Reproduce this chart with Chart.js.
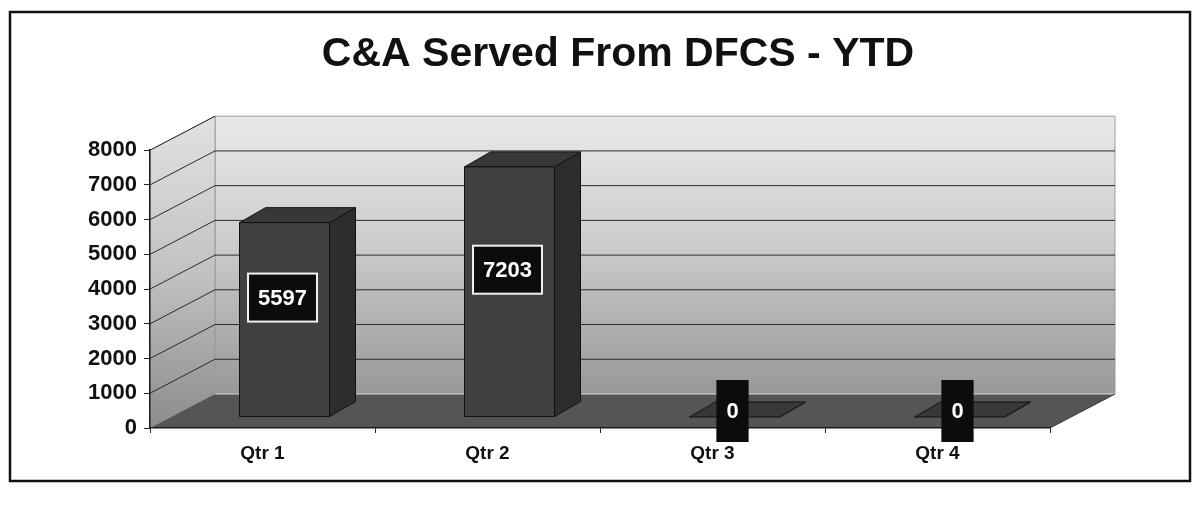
<!DOCTYPE html>
<html>
<head>
<meta charset="utf-8">
<script src="https://cdn.jsdelivr.net/npm/chart.js@4.4.1/dist/chart.umd.min.js"></script>
<style>
  html, body { margin: 0; padding: 0; background: #fff; }
  #wrap { position: absolute; left: 0; top: 0; width: 1195px; height: 510px; }
</style>
</head>
<body>
<div id="wrap"><canvas id="myChart" width="1195" height="510"></canvas></div>
<script>
const categories = ["Qtr 1", "Qtr 2", "Qtr 3", "Qtr 4"];
const served = [5597, 7203, 0, 0];
const yMax = 8000;
const yStep = 1000;

// 3D look: depth of the walls and of the bars
const WALL = { dx: 65, dy: -34 };
const BAR_SHIFT = { dx: 22, dy: -11 };
const BAR_DEPTH = { dx: 26, dy: -15 };
const FONT = "'Liberation Sans', Arial, sans-serif";

function poly(ctx, pts, fill, stroke) {
  ctx.beginPath();
  ctx.moveTo(pts[0][0], pts[0][1]);
  for (let i = 1; i < pts.length; i++) ctx.lineTo(pts[i][0], pts[i][1]);
  ctx.closePath();
  if (fill) { ctx.fillStyle = fill; ctx.fill(); }
  if (stroke) { ctx.strokeStyle = stroke; ctx.stroke(); }
}

const threeD = {
  id: "threeD",
  beforeDraw(chart) {
    const { ctx } = chart;
    const x = chart.scales.x, y = chart.scales.y;
    const L = x.left, R = x.right;
    const B = y.getPixelForValue(0), T = y.getPixelForValue(yMax);
    const dx = WALL.dx, dy = WALL.dy;
    ctx.save();

    // frame round the whole chart
    ctx.lineWidth = 2.5;
    ctx.strokeStyle = "#111";
    ctx.strokeRect(10, 12, 1180, 469);

    // back wall
    ctx.lineWidth = 1;
    const g = ctx.createLinearGradient(0, T + dy, 0, B + dy);
    g.addColorStop(0, "#e9e9e9");
    g.addColorStop(0.45, "#cdcdcd");
    g.addColorStop(1, "#989898");
    poly(ctx, [[L + dx, T + dy], [R + dx, T + dy], [R + dx, B + dy], [L + dx, B + dy]], g, "#9a9a9a");

    // side wall
    const g2 = ctx.createLinearGradient(0, T + dy, 0, B);
    g2.addColorStop(0, "#e2e2e2");
    g2.addColorStop(0.5, "#c2c2c2");
    g2.addColorStop(1, "#8c8c8c");
    poly(ctx, [[L, T], [L + dx, T + dy], [L + dx, B + dy], [L, B]], g2, "#9a9a9a");

    // grid lines on the walls
    ctx.strokeStyle = "#2a2a2a";
    y.ticks.forEach(t => {
      if (t.value === 0 || t.value === yMax) return;
      const py = y.getPixelForValue(t.value);
      ctx.beginPath();
      ctx.moveTo(L, py);
      ctx.lineTo(L + dx, py + dy);
      ctx.lineTo(R + dx, py + dy);
      ctx.stroke();
    });
    ctx.beginPath();
    ctx.moveTo(L, T);
    ctx.lineTo(L + dx, T + dy);
    ctx.stroke();

    // floor
    poly(ctx, [[L, B], [R, B], [R + dx, B + dy], [L + dx, B + dy]], "#555555", null);
    ctx.strokeStyle = "#d8d8d8";
    ctx.beginPath();
    ctx.moveTo(L + dx, B + dy);
    ctx.lineTo(R + dx, B + dy);
    ctx.stroke();
    ctx.strokeStyle = "#333";
    ctx.beginPath();
    ctx.moveTo(R, B);
    ctx.lineTo(R + dx, B + dy);
    ctx.stroke();
    ctx.restore();
  },
  afterDatasetsDraw(chart) {
    const { ctx } = chart;
    const meta = chart.getDatasetMeta(0);
    ctx.save();
    ctx.lineWidth = 1;
    meta.data.forEach(bar => {
      const w = bar.width;
      const fl = bar.x - w / 2 + BAR_SHIFT.dx, fr = fl + w;
      const ft = bar.y + BAR_SHIFT.dy, fb = bar.base + BAR_SHIFT.dy;
      const ddx = BAR_DEPTH.dx, ddy = BAR_DEPTH.dy;
      poly(ctx, [[fr, ft], [fr + ddx, ft + ddy], [fr + ddx, fb + ddy], [fr, fb]], "#2d2d2d", "#111");
      poly(ctx, [[fl, ft], [fr, ft], [fr + ddx, ft + ddy], [fl + ddx, ft + ddy]], "#383838", "#111");
      if (fb - ft > 0.5) poly(ctx, [[fl, ft], [fr, ft], [fr, fb], [fl, fb]], "#414141", "#111");
    });
    ctx.restore();
  },
  afterDraw(chart) {
    const { ctx } = chart;
    const meta = chart.getDatasetMeta(0);
    ctx.save();
    ctx.font = "bold 22px " + FONT;
    ctx.textAlign = "center";
    ctx.textBaseline = "middle";
    meta.data.forEach((bar, i) => {
      const v = served[i];
      const cx = bar.x + BAR_SHIFT.dx - 2;
      const ft = bar.y + BAR_SHIFT.dy, fb = bar.base + BAR_SHIFT.dy;
      const cy = v > 0 ? (ft + fb) / 2 - 22 : fb - 6;
      const txt = String(v);
      const tw = ctx.measureText(txt).width;
      const bw = tw + 20, bh = v > 0 ? 48 : 62;
      ctx.fillStyle = "#0c0c0c";
      ctx.fillRect(cx - bw / 2, cy - bh / 2, bw, bh);
      if (v > 0) {
        ctx.strokeStyle = "#f2f2f2";
        ctx.lineWidth = 2;
        ctx.strokeRect(cx - bw / 2, cy - bh / 2, bw, bh);
      }
      ctx.fillStyle = "#fff";
      ctx.fillText(txt, cx, cy + 1);
    });
    ctx.restore();
  }
};

const ctx = document.getElementById("myChart").getContext("2d");
new Chart(ctx, {
  type: "bar",
  data: {
    labels: categories,
    datasets: [{
      data: served,
      backgroundColor: "rgba(0,0,0,0)",
      borderWidth: 0,
      barPercentage: 0.4,
      categoryPercentage: 1.0
    }]
  },
  options: {
    responsive: false,
    animation: false,
    layout: { padding: { left: 51, right: 10, top: 0, bottom: 42 } },
    plugins: {
      legend: { display: false },
      tooltip: { enabled: false },
      title: {
        display: true,
        text: "C&A Served From DFCS - YTD",
        color: "#111",
        font: { family: FONT, size: 41, weight: "bold" },
        padding: { top: 30, bottom: 71 }
      }
    },
    scales: {
      x: {
        grid: { drawOnChartArea: false, tickLength: 5, color: "#222" },
        border: { color: "#1a1a1a", width: 1.5 },
        ticks: { color: "#111", padding: 9, font: { family: FONT, size: 19, weight: "bold" } },
        afterFit: s => { s.height = 40; }
      },
      y: {
        min: 0,
        max: yMax,
        grid: { drawOnChartArea: false, tickLength: 6, color: "#222" },
        border: { color: "#1a1a1a", width: 1.5 },
        ticks: {
          stepSize: yStep,
          color: "#111",
          padding: 7,
          font: { family: FONT, size: 22, weight: "bold" },
          callback: v => String(v)
        },
        afterFit: s => { s.width = 99; }
      },
      yR: {
        position: "right",
        display: true,
        grid: { display: false },
        border: { display: false },
        ticks: { display: false },
        afterFit: s => { s.width = 135; }
      }
    }
  },
  plugins: [threeD]
});
</script>
</body>
</html>
